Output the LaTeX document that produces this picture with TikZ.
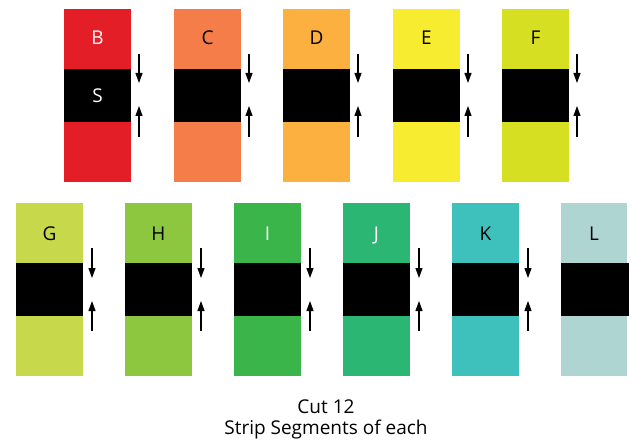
\documentclass[tikz,border=0pt]{standalone}
\usepackage{fontspec}
\setmainfont{Open Sans}
\usetikzlibrary{arrows.meta}
\definecolor{cB}{HTML}{E31E26}
\definecolor{cC}{HTML}{F47D4A}
\definecolor{cD}{HTML}{FBB040}
\definecolor{cE}{HTML}{F7EC2F}
\definecolor{cF}{HTML}{D7DF23}
\definecolor{cG}{HTML}{C7D94A}
\definecolor{cH}{HTML}{8DC63F}
\definecolor{cI}{HTML}{3AB54A}
\definecolor{cJ}{HTML}{2BB673}
\definecolor{cK}{HTML}{3EC0BC}
\definecolor{cL}{HTML}{AFD5D2}
\begin{document}
\begin{tikzpicture}[x=1pt,y=-1pt,
  strip/.style={minimum width=67pt, minimum height=173pt, inner sep=0pt, anchor=north west},
  band/.style={fill=black, minimum width=67pt, minimum height=53pt, inner sep=0pt, anchor=north west},
  lbl/.style={font=\fontsize{19}{22}\selectfont, inner sep=0pt, anchor=base},
  captxt/.style={font=\fontsize{19}{22}\selectfont, inner sep=0pt, anchor=base},
  arr/.style={-{Triangle[length=10pt,width=7pt]}, line width=1.1pt}]
\useasboundingbox (0,0) rectangle (632,441);
% top row
\foreach \n/\x/\c/\t in {B/64/cB/white, C/174/cC/black, D/283/cD/black, E/393/cE/black, F/502/cF/black}{
  \node[strip, fill=\c] (\n) at (\x,9) {};
  \node[band] (\n s) at (\x,69) {};
  \node[lbl, text=\t] (\n t) at ([xshift=33.5pt]\x,45) {\n};
  \coordinate (\n a1) at ([xshift=75pt]\x,54);
  \coordinate (\n a2) at ([xshift=75pt]\x,83);
  \coordinate (\n a3) at ([xshift=75pt]\x,137);
  \coordinate (\n a4) at ([xshift=75pt]\x,106);
  \draw[arr] (\n a1) -- (\n a2);
  \draw[arr] (\n a3) -- (\n a4);
}
\node[lbl, text=white] (St) at (97.5,103) {S};
% bottom row
\foreach \n/\x/\c/\t in {G/16/cG/black, H/125/cH/black, I/234/cI/white, J/343/cJ/white, K/452/cK/black}{
  \node[strip, fill=\c] (\n) at (\x,203) {};
  \node[band] (\n s) at (\x,263) {};
  \node[lbl, text=\t] (\n t) at ([xshift=33.5pt]\x,240) {\n};
  \coordinate (\n a1) at ([xshift=76pt]\x,248);
  \coordinate (\n a2) at ([xshift=76pt]\x,278);
  \coordinate (\n a3) at ([xshift=76pt]\x,331);
  \coordinate (\n a4) at ([xshift=76pt]\x,301);
  \draw[arr] (\n a1) -- (\n a2);
  \draw[arr] (\n a3) -- (\n a4);
}
\node[strip, fill=cL, minimum width=66pt] (L) at (561,203) {};
\node[band, minimum width=68pt] (Ls) at (561,263) {};
\node[lbl, text=black] (Lt) at (594,240) {L};
% caption
\node[captxt] (cap1) at (326,413) {Cut 12};
\node[captxt] (cap2) at (326,434) {Strip Segments of each};
\end{tikzpicture}
\end{document}
